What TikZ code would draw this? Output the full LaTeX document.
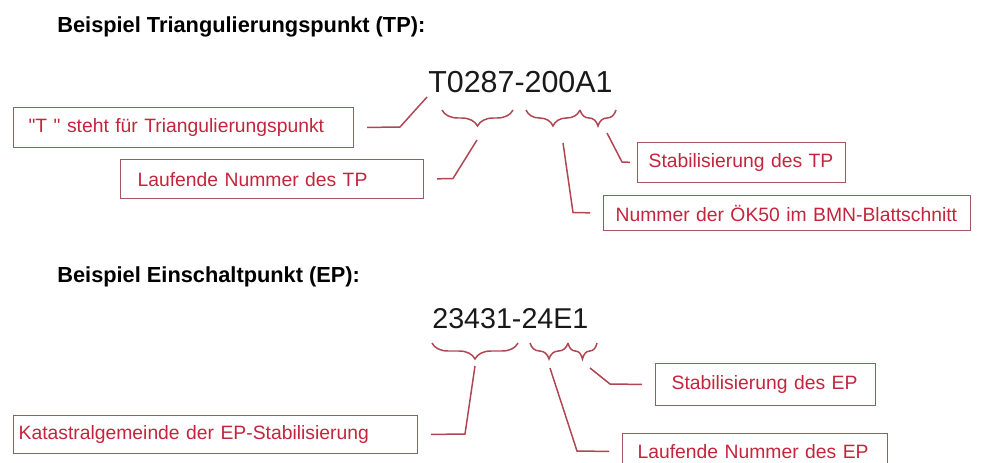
\documentclass[tikz,border=0pt]{standalone}
\usepackage{fontspec}
\setmainfont{Liberation Sans}
\usetikzlibrary{decorations.pathreplacing}

\definecolor{lblred}{RGB}{196,36,60}
\definecolor{boxred}{RGB}{165,85,92}
\definecolor{linered}{RGB}{175,70,82}
\definecolor{codegray}{RGB}{25,25,25}

\begin{document}
\begin{tikzpicture}[x=0.02cm, y=-0.02cm,
            heading/.style = {anchor=base west, inner sep=0pt, font=\fontsize{12.4}{15}\selectfont\bfseries},
            code/.style = {anchor=base west, inner sep=0pt, text=codegray},
            lbl/.style = {draw=boxred, line width=0.7pt, text=lblred, anchor=north west, align=left, inner ysep=0pt, font=\fontsize{11}{13}\selectfont},
            brace/.style = {draw=linered, line width=0.85pt, decorate, decoration={brace, mirror, amplitude=0.32cm}},
            lead/.style = {draw=linered, line width=0.85pt, shorten >=0.26cm},
        ]
            % Page frame
            \useasboundingbox (0,0) rectangle (987,463);

            % Example TP
            \node[heading] (titleTP) at (57,32) {Beispiel Triangulierungspunkt (TP):};
            \node[code, font=\fontsize{17.3}{20}\selectfont] (codeTP) at (428,92) {T0287-200A1};

            % Braces under the parts of the TP number
            \draw[brace] (442,110) -- (513,110);
            \draw[brace] (526,110) -- (580,110);
            \draw[brace] (580,110) -- (616,110);

            % Label boxes TP
            \node[lbl, inner xsep=0.3cm, text width=6.2cm, minimum height=0.8cm] (boxT) at (13,107) {\textquotedbl T\ \textquotedbl\ steht für Triangulierungspunkt};
            \node[lbl, inner xsep=0.34cm, text width=5.38cm, minimum height=0.78cm] (boxLfdTP) at (120,159) {Laufende Nummer des TP};
            \node[lbl, inner xsep=0.22cm, text width=3.72cm, minimum height=0.8cm] (boxStabTP) at (637,142) {Stabilisierung des TP};
            \node[lbl, inner xsep=0.24cm, text width=6.86cm, minimum height=0.7cm] (boxOEK) at (603,195) {Nummer der ÖK50 im BMN-Blattschnitt};

            % Leader lines TP
            \coordinate (tipT) at (427,97);
            \coordinate (tip1) at (477,140);
            \coordinate (tip2) at (563,143);
            \coordinate (tip3) at (607,133);
            \draw[lead] (tipT) -- (400,127) -- (boxT.east);
            \draw[lead] (tip1) -- (453,178.5) -- (boxLfdTP.east);
            \draw[lead] (tip2) -- (573,212.5) -- (boxOEK.west);
            \draw[lead, shorten >=0.14cm] (tip3) -- (622,162) -- (boxStabTP.west);

            % Example EP
            \node[heading] (titleEP) at (57,282) {Beispiel Einschaltpunkt (EP):};
            \node[code, font=\fontsize{16.3}{19}\selectfont] (codeEP) at (432,328) {23431-24E1};

            % Braces under the parts of the EP number
            \draw[brace] (432,343) -- (518,343);
            \draw[brace] (530,343) -- (568,343);
            \draw[brace] (568,343) -- (597,343);

            % Label boxes EP
            \node[lbl, inner xsep=0.1cm, text width=7.88cm, minimum height=0.76cm] (boxKat) at (13,415) {Katastralgemeinde der EP-Stabilisierung};
            \node[lbl, inner xsep=0.32cm, text width=3.76cm, minimum height=0.84cm] (boxStabEP) at (655,363) {Stabilisierung des EP};
            \node[lbl, inner xsep=0.3cm, text width=4.7cm, minimum height=0.72cm] (boxLfdEP) at (622,433) {Laufende Nummer des EP};

            % Leader lines EP
            \coordinate (tipK) at (475,366);
            \coordinate (tipL) at (550,368);
            \coordinate (tipS) at (590,368);
            \draw[lead] (tipK) -- (465,434) -- (boxKat.east);
            \draw[lead] (tipL) -- (577,451) -- (boxLfdEP.west);
            \draw[lead] (tipS) -- (610,384) -- (boxStabEP.west);
        \end{tikzpicture}
\end{document}
